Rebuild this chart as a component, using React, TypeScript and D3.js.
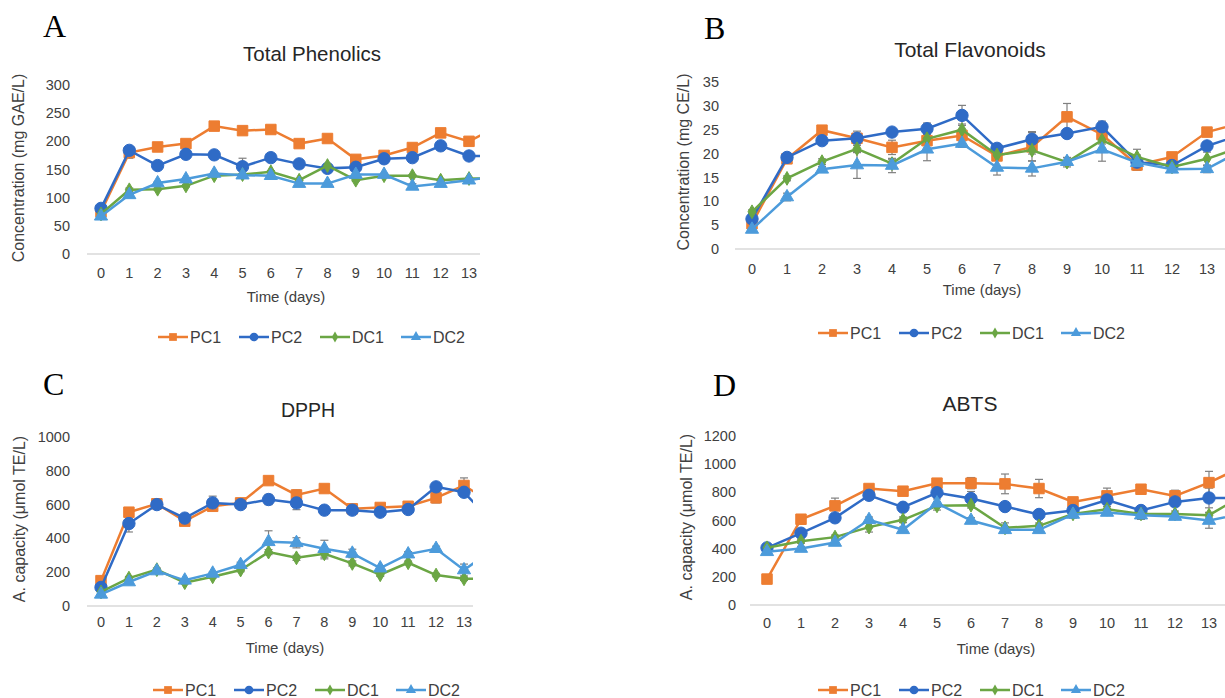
import * as d3 from 'd3';

// days on the x axis (day 14 is cut off by the figure crop)
const days = [0, 1, 2, 3, 4, 5, 6, 7, 8, 9, 10, 11, 12, 13, 14];
const dayTicks = [0, 1, 2, 3, 4, 5, 6, 7, 8, 9, 10, 11, 12, 13];
const seriesNames = ['PC1', 'PC2', 'DC1', 'DC2'];

// A - Total Phenolics (mg GAE/L)
const phenPC1 = [75, 180, 190, 196, 227, 219, 221, 196, 205, 168, 175, 189, 215, 200, 226];
const phenPC2 = [81, 184, 157, 177, 176, 155, 171, 160, 152, 154, 169, 171, 192, 174, 174];
const phenDC1 = [71, 114, 115, 121, 139, 141, 146, 131, 157, 131, 139, 139, 131, 134, 134];
const phenDC2 = [67, 105, 126, 133, 143, 140, 139, 125, 125, 141, 141, 120, 125, 131, 139];
const phenErrPC1 = [3, 10, 3, 3, 3, 3, 3, 6, 3, 3, 3, 3, 3, 3, 3];
const phenErrPC2 = [3, 5, 3, 3, 3, 15, 3, 3, 3, 3, 3, 3, 3, 3, 3];
const phenErrDC1 = [2, 3, 2, 2, 2, 2, 2, 2, 2, 2, 2, 2, 2, 2, 2];
const phenErrDC2 = [2, 3, 2, 2, 2, 2, 2, 2, 2, 2, 2, 5, 2, 2, 2];

// B - Total Flavonoids (mg CE/L)
const flavPC1 = [5.3, 18.9, 24.9, 23.2, 21.3, 22.7, 23.8, 19.5, 21.4, 27.7, 24.0, 17.6, 19.3, 24.5, 26.5];
const flavPC2 = [6.3, 19.2, 22.7, 23.2, 24.5, 25.2, 28.0, 21.1, 23.0, 24.2, 25.6, 18.2, 17.5, 21.6, 24.0];
const flavDC1 = [7.8, 14.8, 18.3, 21.0, 17.9, 23.1, 25.0, 19.7, 20.7, 18.2, 22.8, 19.3, 17.2, 18.9, 21.4];
const flavDC2 = [4.1, 10.9, 16.7, 17.6, 17.5, 20.9, 22.1, 17.1, 16.9, 18.3, 20.9, 18.1, 16.7, 16.8, 20.7];
const flavErrPC1 = [0.4, 0.5, 0.6, 1.5, 1.5, 0.8, 0.8, 0.6, 3.0, 2.8, 1.0, 1.0, 0.6, 0.8, 0.8];
const flavErrPC2 = [0.4, 0.5, 0.6, 0.6, 0.6, 1.2, 2.1, 1.0, 1.6, 0.8, 1.2, 0.8, 0.6, 0.8, 0.8];
const flavErrDC1 = [0.4, 0.5, 0.6, 0.8, 0.8, 0.8, 1.2, 0.6, 0.8, 1.0, 0.8, 1.6, 0.6, 1.4, 0.8];
const flavErrDC2 = [0.4, 0.8, 0.6, 2.8, 1.5, 2.4, 0.8, 1.6, 1.6, 0.8, 2.5, 1.6, 0.6, 0.8, 0.8];

// C - DPPH (umol TE/L)
const dpphPC1 = [150, 555, 605, 502, 590, 610, 742, 657, 695, 575, 583, 590, 640, 713, 610];
const dpphPC2 = [110, 488, 600, 520, 610, 600, 630, 610, 567, 567, 555, 571, 705, 673, 500];
const dpphDC1 = [83, 165, 215, 138, 173, 213, 319, 285, 309, 252, 185, 256, 183, 161, 161];
const dpphDC2 = [69, 142, 207, 152, 193, 244, 380, 374, 339, 311, 224, 307, 339, 213, 330];
const dpphErrPC1 = [10, 15, 10, 10, 10, 10, 10, 30, 10, 10, 10, 10, 30, 45, 10];
const dpphErrPC2 = [10, 50, 10, 10, 40, 10, 30, 40, 10, 10, 10, 10, 15, 20, 10];
const dpphErrDC1 = [8, 10, 10, 8, 8, 10, 15, 15, 30, 15, 10, 10, 10, 10, 10];
const dpphErrDC2 = [8, 10, 10, 8, 8, 15, 65, 30, 50, 25, 15, 15, 15, 35, 10];

// D - ABTS (umol TE/L)
const abtsPC1 = [184, 609, 704, 827, 808, 865, 865, 860, 827, 732, 775, 822, 775, 869, 984];
const abtsPC2 = [406, 510, 619, 779, 694, 797, 756, 699, 643, 671, 746, 671, 732, 760, 760];
const abtsDC1 = [406, 453, 482, 553, 605, 704, 709, 548, 562, 647, 680, 647, 647, 638, 778];
const abtsDC2 = [378, 401, 444, 605, 534, 723, 600, 534, 534, 643, 657, 638, 628, 600, 649];
const abtsErrPC1 = [15, 20, 55, 20, 30, 25, 40, 70, 65, 20, 55, 20, 40, 80, 20];
const abtsErrPC2 = [15, 20, 20, 20, 20, 20, 50, 20, 20, 20, 20, 30, 20, 70, 20];
const abtsErrDC1 = [15, 15, 15, 35, 20, 30, 20, 35, 20, 30, 20, 20, 20, 20, 20];
const abtsErrDC2 = [15, 15, 15, 20, 20, 30, 20, 20, 20, 20, 20, 30, 20, 55, 20];

const colors = ['#ED7D31', '#2F6BC6', '#6BA644', '#4C9BDB'];
const symbols = [d3.symbolSquare, d3.symbolCircle, d3.symbolDiamond, d3.symbolTriangle];
const symbolSizes = [110, 120, 55, 75];
const legendSizes = [60, 60, 35, 45];

const FONT = '"Liberation Sans", Arial, sans-serif';

type Layout = {
  letter: string; letterX: number; letterY: number;
  title: string; titleX: number; titleY: number; titleSize: number;
  yLabel: string; yLabelX: number; yLabelY: number;
  yMax: number; yStep: number; yZero: number; yTop: number; tickRight: number;
  axisLeft: number; clipRight: number; x0: number; x13: number;
  xTickY: number; xTitleX: number; xTitleY: number;
  legendX: number; legendY: number;
  values: number[][]; errors: number[][];
};

const panels: Layout[] = [
  {
    letter: 'A', letterX: 43, letterY: 37,
    title: 'Total Phenolics', titleX: 312, titleY: 61, titleSize: 20.5,
    yLabel: 'Concentration (mg GAE/L)', yLabelX: 18, yLabelY: 168,
    yMax: 300, yStep: 50, yZero: 254, yTop: 85, tickRight: 70,
    axisLeft: 87, clipRight: 480, x0: 101, x13: 469,
    xTickY: 278, xTitleX: 286, xTitleY: 302,
    legendX: 158, legendY: 337,
    values: [phenPC1, phenPC2, phenDC1, phenDC2],
    errors: [phenErrPC1, phenErrPC2, phenErrDC1, phenErrDC2],
  },
  {
    letter: 'B', letterX: 704, letterY: 39,
    title: 'Total Flavonoids', titleX: 970, titleY: 57, titleSize: 21,
    yLabel: 'Concentration (mg CE/L)', yLabelX: 683, yLabelY: 162,
    yMax: 35, yStep: 5, yZero: 249, yTop: 82, tickRight: 719,
    axisLeft: 735, clipRight: 1225, x0: 752, x13: 1207,
    xTickY: 274, xTitleX: 982, xTitleY: 295,
    legendX: 818, legendY: 333,
    values: [flavPC1, flavPC2, flavDC1, flavDC2],
    errors: [flavErrPC1, flavErrPC2, flavErrDC1, flavErrDC2],
  },
  {
    letter: 'C', letterX: 43, letterY: 395,
    title: 'DPPH', titleX: 308, titleY: 417, titleSize: 19.5,
    yLabel: 'A. capacity (μmol TE/L)', yLabelX: 19, yLabelY: 519,
    yMax: 1000, yStep: 200, yZero: 606, yTop: 437, tickRight: 70,
    axisLeft: 87, clipRight: 473, x0: 101, x13: 464,
    xTickY: 627, xTitleX: 285, xTitleY: 653,
    legendX: 153, legendY: 690,
    values: [dpphPC1, dpphPC2, dpphDC1, dpphDC2],
    errors: [dpphErrPC1, dpphErrPC2, dpphErrDC1, dpphErrDC2],
  },
  {
    letter: 'D', letterX: 713, letterY: 396,
    title: 'ABTS', titleX: 970, titleY: 411, titleSize: 21,
    yLabel: 'A. capacity (μmol TE/L)', yLabelX: 686, yLabelY: 517,
    yMax: 1200, yStep: 200, yZero: 605, yTop: 436, tickRight: 736,
    axisLeft: 750, clipRight: 1225, x0: 767, x13: 1209,
    xTickY: 628, xTitleX: 996, xTitleY: 654,
    legendX: 818, legendY: 690,
    values: [abtsPC1, abtsPC2, abtsDC1, abtsDC2],
    errors: [abtsErrPC1, abtsErrPC2, abtsErrDC1, abtsErrDC2],
  },
];

function Panel({ p, idx }: { p: Layout; idx: number }) {
  const x = d3.scaleLinear().domain([0, 13]).range([p.x0, p.x13]);
  const y = d3.scaleLinear().domain([0, p.yMax]).range([p.yZero, p.yTop]);
  const yTicks = d3.range(0, p.yMax + p.yStep / 2, p.yStep);
  const line = d3
    .line<number>()
    .x((_, i) => x(days[i]))
    .y((d) => y(d));
  const clipId = `clip-${idx}`;

  return (
    <g>
      <defs>
        <clipPath id={clipId}>
          <rect x={p.axisLeft - 20} y={p.yTop - 40} width={p.clipRight - p.axisLeft + 20} height={p.yZero - p.yTop + 60} />
        </clipPath>
      </defs>
      <text x={p.letterX} y={p.letterY} fontFamily='"Liberation Serif", "Times New Roman", serif' fontSize={32} fill='#000'>
        {p.letter}
      </text>
      <text x={p.titleX} y={p.titleY} textAnchor='middle' fontFamily={FONT} fontSize={p.titleSize} fill='#262626'>
        {p.title}
      </text>
      {yTicks.map((t) => (
        <text key={t} x={p.tickRight} y={y(t)} dy='0.35em' textAnchor='end' fontFamily={FONT} fontSize={14.5} fill='#404040'>
          {t}
        </text>
      ))}
      <text
        transform={`translate(${p.yLabelX},${p.yLabelY}) rotate(-90)`}
        textAnchor='middle'
        dy='0.35em'
        fontFamily={FONT}
        fontSize={16}
        fill='#404040'
      >
        {p.yLabel}
      </text>
      <line x1={p.axisLeft} x2={p.clipRight} y1={p.yZero} y2={p.yZero} stroke='#d9d9d9' strokeWidth={1.5} />
      {dayTicks.map((d) => (
        <text key={d} x={x(d)} y={p.xTickY} textAnchor='middle' fontFamily={FONT} fontSize={14.5} fill='#404040'>
          {d}
        </text>
      ))}
      <text x={p.xTitleX} y={p.xTitleY} textAnchor='middle' fontFamily={FONT} fontSize={15} fill='#404040'>
        Time (days)
      </text>
      <g clipPath={`url(#${clipId})`}>
        {p.values.map((vals, s) => (
          <g key={s}>
            {vals.map((v, i) => {
              const e = p.errors[s][i];
              const cx = x(days[i]);
              return (
                <g key={i} stroke='#808080' strokeWidth={1.2}>
                  <line x1={cx} x2={cx} y1={y(v - e)} y2={y(v + e)} />
                  <line x1={cx - 4} x2={cx + 4} y1={y(v + e)} y2={y(v + e)} />
                  <line x1={cx - 4} x2={cx + 4} y1={y(v - e)} y2={y(v - e)} />
                </g>
              );
            })}
          </g>
        ))}
        {p.values.map((vals, s) => (
          <g key={s}>
            <path d={line(vals) ?? ''} fill='none' stroke={colors[s]} strokeWidth={2.5} />
            {vals.map((v, i) => (
              <path
                key={i}
                transform={`translate(${x(days[i])},${y(v)})`}
                d={d3.symbol().type(symbols[s]).size(symbolSizes[s])() ?? ''}
                fill={colors[s]}
                stroke={colors[s]}
                strokeWidth={1}
              />
            ))}
          </g>
        ))}
      </g>
      {seriesNames.map((name, s) => {
        const lx = p.legendX + s * 81;
        return (
          <g key={name}>
            <line x1={lx} x2={lx + 30} y1={p.legendY} y2={p.legendY} stroke={colors[s]} strokeWidth={2.5} />
            <path
              transform={`translate(${lx + 15},${p.legendY})`}
              d={d3.symbol().type(symbols[s]).size(legendSizes[s])() ?? ''}
              fill={colors[s]}
            />
            <text x={lx + 32} y={p.legendY} dy='0.36em' fontFamily={FONT} fontSize={16} fill='#404040'>
              {name}
            </text>
          </g>
        );
      })}
    </g>
  );
}

export default function App() {
  return (
    <svg
      width={1225}
      height={698}
      viewBox='0 0 1225 698'
      style={{ position: 'absolute', left: 0, top: 0, background: '#fff' }}
    >
      <rect width={1225} height={698} fill='#fff' />
      {panels.map((p, i) => (
        <Panel key={p.letter} p={p} idx={i} />
      ))}
    </svg>
  );
}
